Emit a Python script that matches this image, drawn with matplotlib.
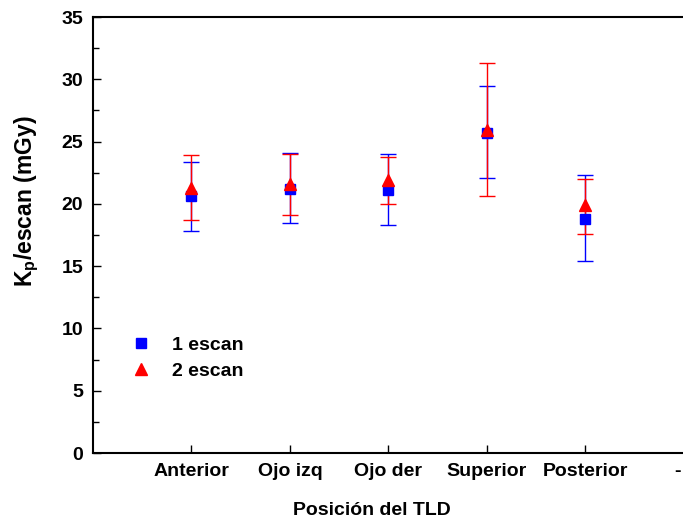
import matplotlib
matplotlib.use("Agg")
import matplotlib.pyplot as plt
import matplotlib.transforms as mtransforms
from matplotlib.ticker import MultipleLocator

# ================= DATA =================
categories = ["Anterior", "Ojo izq", "Ojo der", "Superior", "Posterior", "-"]

# 1 escan (blue squares)
mean_1 = [20.6, 21.2, 21.1, 25.7, 18.8]
top_1 = [23.4, 24.1, 24.0, 29.5, 22.3]
bot_1 = [17.8, 18.5, 18.3, 22.1, 15.4]

# 2 escan (red triangles)
mean_2 = [21.3, 21.6, 21.9, 25.9, 19.9]
top_2 = [23.95, 24.0, 23.8, 31.3, 22.0]
bot_2 = [18.7, 19.1, 20.0, 20.6, 17.6]

# ================= PLOT =================
plt.rcParams["font.family"] = ["Liberation Sans", "DejaVu Sans"]
plt.rcParams["font.weight"] = "bold"

fig = plt.figure(figsize=(6.83, 5.25), dpi=100)
ax = fig.add_axes([93 / 683, 72 / 525, 640 / 683, 436 / 525])

x = list(range(1, len(mean_1) + 1))

err_1 = [[m - b for m, b in zip(mean_1, bot_1)], [t - m for m, t in zip(mean_1, top_1)]]
err_2 = [[m - b for m, b in zip(mean_2, bot_2)], [t - m for m, t in zip(mean_2, top_2)]]

eb1 = ax.errorbar(x, mean_1, yerr=err_1, fmt="s", color="#0000ff", ecolor="#0000ff",
                  markersize=6.5, capsize=5.5, elinewidth=1, capthick=1)
eb2 = ax.errorbar(x, mean_2, yerr=err_2, fmt="^", color="#ff0000", ecolor="#ff0000",
                  markersize=8, capsize=5.5, elinewidth=1, capthick=1)

ax.set_xlim(0, 6.5)
ax.set_ylim(0, 35)
ax.set_xticks(range(1, len(categories) + 1))
ax.set_xticklabels(categories)
ax.yaxis.set_major_locator(MultipleLocator(5))
ax.yaxis.set_minor_locator(MultipleLocator(2.5))

ax.tick_params(axis="both", which="major", direction="in", length=6, width=1,
               labelsize=14, pad=7)
ax.tick_params(axis="y", which="minor", direction="in", length=4, width=1)
for lbl in ax.get_xticklabels() + ax.get_yticklabels():
    lbl.set_fontweight("bold")

# last "-" label sits at the figure edge, nudge it left a bit
shift = mtransforms.ScaledTranslation(-6 / 100, 0, fig.dpi_scale_trans)
last = ax.get_xticklabels()[-1]
last.set_transform(last.get_transform() + shift)

for s in ax.spines.values():
    s.set_linewidth(1.5)

ax.set_xlabel("Posición del TLD", fontsize=14, fontweight="bold")
ax.xaxis.set_label_coords(0.436, -0.113)
ax.set_ylabel(r"K$_\mathregular{p}$/escan (mGy)", fontsize=16.5, fontweight="bold")
ax.yaxis.set_label_coords(-0.081, 0.578)

ax.legend([eb1[0], eb2[0]], ["1 escan", "2 escan"], loc="upper left",
          bbox_to_anchor=(0.033, 0.307), frameon=False,
          prop={"size": 14, "weight": "bold"}, handlelength=1.0,
          handletextpad=1.1, numpoints=1, labelspacing=0.4)

plt.savefig("out.png", dpi=100)
